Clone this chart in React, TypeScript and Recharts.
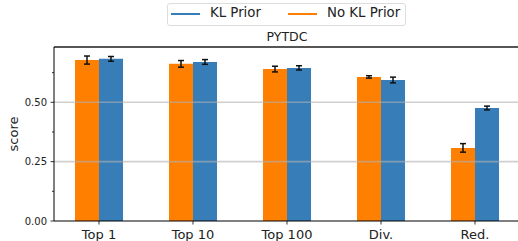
import React from 'react';
import { BarChart, Bar, XAxis, YAxis, ErrorBar, ReferenceLine, Legend, Label } from 'recharts';

const categories = ['Top 1', 'Top 10', 'Top 100', 'Div.', 'Red.'];
const klPrior = [0.683, 0.670, 0.645, 0.594, 0.476];
const klPriorErr = [0.010, 0.010, 0.009, 0.012, 0.008];
const noKlPrior = [0.678, 0.662, 0.640, 0.607, 0.308];
const noKlPriorErr = [0.017, 0.014, 0.012, 0.005, 0.018];
const yTicks = [0, 0.125, 0.25, 0.375, 0.5, 0.625];
const yMajor = [0, 0.25, 0.5];
const gridValues = [0.25, 0.5];
const yMax = 0.733;

const data = categories.map((c, i) => ({
  name: c,
  kl: klPrior[i],
  klErr: klPriorErr[i],
  nokl: noKlPrior[i],
  noklErr: noKlPriorErr[i],
}));

const FONT = '"DejaVu Sans", sans-serif';
const BLUE = '#377eb8';
const ORANGE = '#ff7f00';

const YTick = (props: any) => {
  const { y, payload } = props;
  const v = payload.value;
  const major = yMajor.some((m) => Math.abs(m - v) < 1e-6);
  return (
    <g>
      <line x1={54} x2={major ? 50.5 : 52} y1={y} y2={y} stroke="#000" strokeWidth={0.8} />
      {major && (
        <text x={47} y={y} dy={3.6} textAnchor="end" fontSize={10} fontFamily={FONT} fill="#222">
          {v.toFixed(2)}
        </text>
      )}
    </g>
  );
};

const XTick = (props: any) => {
  const { x, payload } = props;
  return (
    <g>
      <line x1={x} x2={x} y1={221} y2={224.5} stroke="#000" strokeWidth={0.8} />
      <text x={x} y={239} textAnchor="middle" fontSize={13} fontFamily={FONT} fill="#222">
        {payload.value}
      </text>
    </g>
  );
};

const LegendContent = () => (
  <div style={{ position: 'relative', width: 518, height: 45, fontFamily: FONT }}>
    <div
      style={{
        position: 'absolute', left: 167, top: 3, width: 239, height: 23,
        border: '1px solid #ddd', borderRadius: 3, boxSizing: 'border-box', background: '#fff',
      }}
    />
    <div style={{ position: 'absolute', left: 171, top: 13, width: 29, height: 2, background: BLUE }} />
    <div style={{ position: 'absolute', left: 210, top: 5, fontSize: 13.3, color: '#222', whiteSpace: 'nowrap' }}>KL Prior</div>
    <div style={{ position: 'absolute', left: 288, top: 13, width: 29, height: 2, background: ORANGE }} />
    <div style={{ position: 'absolute', left: 327, top: 5, fontSize: 13.3, color: '#222', whiteSpace: 'nowrap' }}>No KL Prior</div>
    <div style={{ position: 'absolute', left: 0, width: 574, top: 29, textAlign: 'center', fontSize: 12.5, color: '#222' }}>PYTDC</div>
  </div>
);

export default function App() {
  return (
    <div style={{ position: 'fixed', left: 0, top: 0, width: 518, height: 241, overflow: 'hidden', background: '#fff' }}>
      <BarChart
        width={522}
        height={241}
        data={data}
        margin={{ top: 2, right: 0, bottom: 0, left: 0 }}
        barGap={0}
        barSize={24}
      >
        <Legend verticalAlign="top" height={45} content={<LegendContent />} wrapperStyle={{ position: 'absolute', left: 0, top: 0, width: 518, height: 45 }} />
        <XAxis
          dataKey="name"
          padding={{ left: -2, right: 0 }}
          axisLine={{ stroke: '#000', strokeWidth: 1.2 }}
          tickLine={false}
          tick={<XTick />}
          height={20}
          interval={0}
        />
        <YAxis
          width={54}
          domain={[0, yMax]}
          ticks={yTicks}
          interval={0}
          allowDataOverflow
          axisLine={{ stroke: '#000', strokeWidth: 1 }}
          tickLine={false}
          tick={<YTick />}
        >
          <Label value="score" angle={-90} position="center" dx={-14} style={{ fontSize: 13, fontFamily: FONT, fill: '#222' }} />
        </YAxis>
        <Bar dataKey="nokl" fill={ORANGE} isAnimationActive={false}>
          <ErrorBar dataKey="noklErr" width={3} stroke="#111" strokeWidth={1.5} />
        </Bar>
        <Bar dataKey="kl" fill={BLUE} isAnimationActive={false}>
          <ErrorBar dataKey="klErr" width={3} stroke="#111" strokeWidth={1.5} />
        </Bar>
        {gridValues.map((g) => (
          <ReferenceLine key={g} y={g} stroke="#b0b0b0" strokeOpacity={0.6} strokeWidth={1.6} />
        ))}
        <ReferenceLine y={yMax} stroke="#555" strokeWidth={2} ifOverflow="visible" />
      </BarChart>
    </div>
  );
}
